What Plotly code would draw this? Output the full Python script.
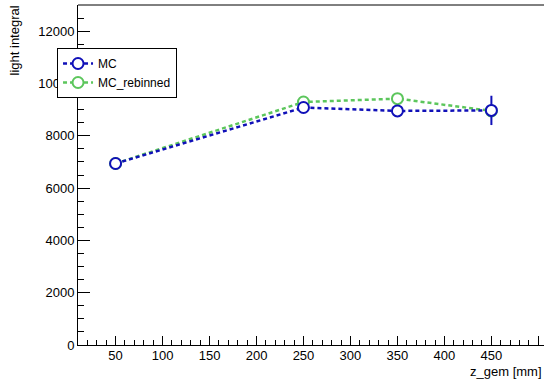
import plotly.graph_objects as go

# z positions of the GEM (mm)
z_gem = [50, 250, 350, 450]

# light integral per position
mc = [6940, 9080, 8950, 8970]
mc_err = [0, 0, 0, 560]
mc_rebinned = [6940, 9290, 9420, 8950]

blue = "#1010b8"
green = "#5cc65c"

fig = go.Figure()

fig.add_trace(go.Scatter(
    x=z_gem, y=mc_rebinned, name="MC_rebinned", mode="lines+markers",
    line=dict(color=green, width=2.5, dash="4px,3px"),
    marker=dict(symbol="circle", size=11, color="white",
                line=dict(color=green, width=2)),
))
fig.add_trace(go.Scatter(
    x=z_gem, y=mc, name="MC", mode="lines+markers",
    line=dict(color=blue, width=2.5, dash="4px,3px"),
    marker=dict(symbol="circle", size=11, color="white",
                line=dict(color=blue, width=2)),
    error_y=dict(type="data", array=mc_err, visible=True, color=blue,
                 thickness=2, width=0),
))

font = "Liberation Sans, Arial, Helvetica, sans-serif"

fig.update_layout(
    width=544, height=379,
    margin=dict(l=78, r=0, t=5, b=34),
    paper_bgcolor="white", plot_bgcolor="white",
    font=dict(family=font, size=13, color="black"),
    showlegend=True,
    legend=dict(
        x=-0.045, y=0.8735, xanchor="left", yanchor="top",
        bordercolor="black", borderwidth=1, bgcolor="white",
        font=dict(size=12), traceorder="reversed",
        itemwidth=30, tracegroupgap=0,
    ),
    xaxis=dict(
        range=[10, 506], showgrid=False, zeroline=False,
        showline=True, linecolor="black", linewidth=1,
        ticks="inside", ticklen=9, tickcolor="black",
        tickmode="linear", tick0=50, dtick=50, tickformat="d",
        minor=dict(ticks="inside", ticklen=5, tickcolor="black", dtick=10, tick0=0),
        tickfont=dict(size=13), ticklabelstandoff=-2,
    ),
    yaxis=dict(
        range=[0, 13000], showgrid=False, zeroline=False,
        showline=True, linecolor="black", linewidth=1,
        ticks="inside", ticklen=12, tickcolor="black",
        tickmode="linear", tick0=0, dtick=2000, tickformat="d",
        minor=dict(ticks="inside", ticklen=6, tickcolor="black", dtick=500, tick0=0),
        tickfont=dict(size=13),
    ),
    shapes=[dict(type="line", xref="paper", yref="paper", x0=0, x1=1, y0=1, y1=1,
                 line=dict(color="black", width=1))],
    annotations=[
        dict(text="light integral", textangle=-90, xref="paper", yref="paper",
             x=-0.137, y=1.005, xanchor="center", yanchor="top", showarrow=False,
             font=dict(size=13)),
        dict(text="z_gem [mm]", xref="paper", yref="paper",
             x=0.999, y=-0.05, xanchor="right", yanchor="top", showarrow=False,
             font=dict(size=13)),
    ],
)

fig.write_html("out.html")
